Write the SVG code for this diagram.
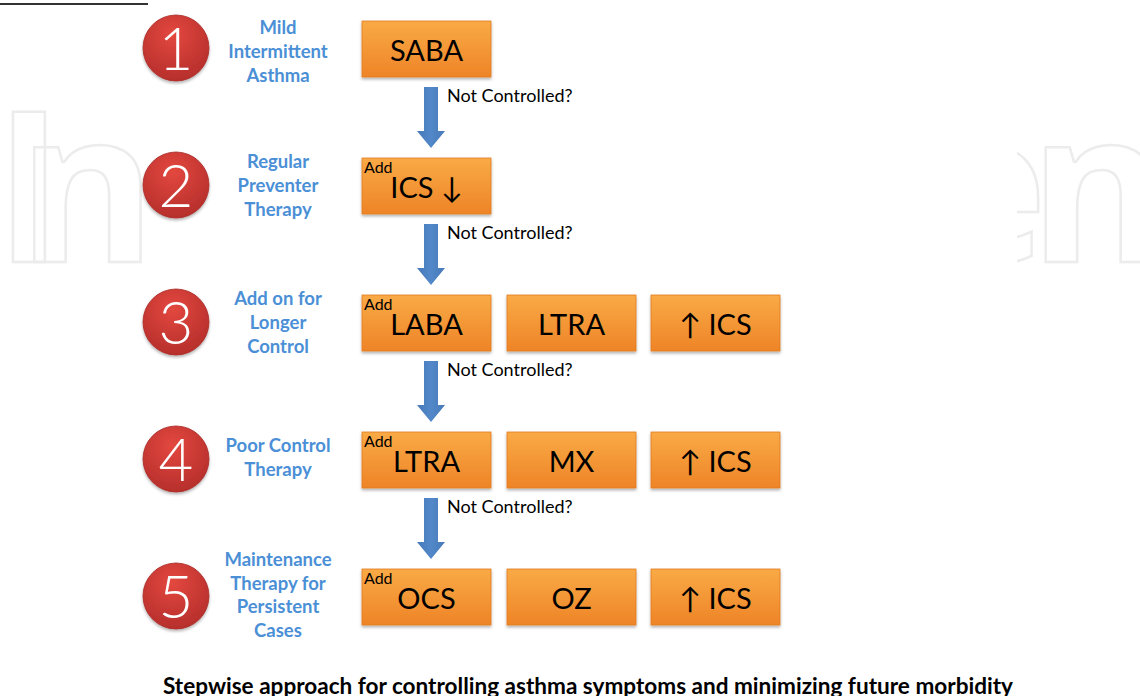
<svg xmlns="http://www.w3.org/2000/svg" width="1140" height="696" viewBox="0 0 1140 696">
<defs>
<linearGradient id="gBox" x1="0" y1="0" x2="0" y2="1">
<stop offset="0" stop-color="#f9aa46"/>
<stop offset="1" stop-color="#ee8427"/>
</linearGradient>
<radialGradient id="gCirc" cx="0.45" cy="0.3" r="0.8">
<stop offset="0" stop-color="#e3483f"/>
<stop offset="1" stop-color="#b02b29"/>
</radialGradient>
<linearGradient id="gArrow" x1="0" y1="0" x2="1" y2="0">
<stop offset="0" stop-color="#4779b8"/>
<stop offset="0.5" stop-color="#5288c9"/>
<stop offset="1" stop-color="#4779b8"/>
</linearGradient>
<filter id="shadow" x="-10%" y="-10%" width="120%" height="130%">
<feDropShadow dx="0" dy="2" stdDeviation="1.5" flood-color="#000" flood-opacity="0.3"/>
</filter>
<clipPath id="wmClip">
<rect x="0" y="0" width="143" height="696"/>
<rect x="1017" y="0" width="123" height="696"/>
</clipPath>
<path id="arrow" d="M-7,0 H7 V44 H14 L0,61 L-14,44 H-7 Z"/>
</defs>
<style>
.box{fill:url(#gBox);stroke:#e07c20;stroke-width:0.8;filter:url(#shadow)}
.circ{fill:url(#gCirc);stroke:#a82826;stroke-width:0.8;filter:url(#shadow)}
.num{font-family:Lato,"Open Sans",sans-serif;font-weight:300;font-size:60px;fill:#fff;text-anchor:middle}
.lbl{font-family:Lato,"Liberation Sans",sans-serif;font-weight:bold;font-size:18.5px;fill:#4b8fd6;text-anchor:middle}
.bt{font-family:Lato,"DejaVu Sans",sans-serif;font-size:29px;fill:#000;text-anchor:middle}
.add{font-family:Lato,"Liberation Sans",sans-serif;font-size:16px;fill:#000}
.nc{font-family:Lato,"Liberation Sans",sans-serif;font-size:18px;fill:#000}
.cap{font-family:Lato,"Liberation Sans",sans-serif;font-weight:bold;font-size:22px;fill:#000;text-anchor:middle}
.arr{fill:url(#gArrow)}
.wm{font-family:"Open Sans",sans-serif;font-weight:bold;font-size:211px;fill:none;stroke:#ececec;stroke-width:2.5;letter-spacing:-9px}
</style>
<rect width="1140" height="696" fill="#fff"/>
<g id="watermark" clip-path="url(#wmClip)">
<text class="wm" x="-6" y="262" dx="0 -37 0 0 0 0 0 0 64 -9">IntechOpen</text>
</g>
<line x1="0" y1="4" x2="148" y2="4" stroke="#333" stroke-width="2"/>

<g id="connectors">
<use href="#arrow" class="arr" x="431" y="87"/>
<use href="#arrow" class="arr" x="431" y="224"/>
<use href="#arrow" class="arr" x="431" y="361"/>
<use href="#arrow" class="arr" x="431" y="498"/>
<text class="nc" x="447" y="102">Not Controlled?</text>
<text class="nc" x="447" y="239">Not Controlled?</text>
<text class="nc" x="447" y="376">Not Controlled?</text>
<text class="nc" x="447" y="513">Not Controlled?</text>
</g>

<g id="step1">
<circle class="circ" cx="176" cy="48" r="33"/>
<text class="num" x="176" y="70">1</text>
<text class="lbl" x="278" y="34">Mild</text>
<text class="lbl" x="278" y="58">Intermittent</text>
<text class="lbl" x="278" y="82">Asthma</text>
</g>
<g id="step2">
<circle class="circ" cx="176" cy="185" r="33"/>
<text class="num" x="176" y="207">2</text>
<text class="lbl" x="278" y="168">Regular</text>
<text class="lbl" x="278" y="192">Preventer</text>
<text class="lbl" x="278" y="216">Therapy</text>
</g>
<g id="step3">
<circle class="circ" cx="176" cy="322" r="33"/>
<text class="num" x="176" y="344">3</text>
<text class="lbl" x="278" y="305">Add on for</text>
<text class="lbl" x="278" y="329">Longer</text>
<text class="lbl" x="278" y="353">Control</text>
</g>
<g id="step4">
<circle class="circ" cx="176" cy="459" r="33"/>
<text class="num" x="176" y="481">4</text>
<text class="lbl" x="278" y="452">Poor Control</text>
<text class="lbl" x="278" y="476">Therapy</text>
</g>
<g id="step5">
<circle class="circ" cx="176" cy="596" r="33"/>
<text class="num" x="176" y="618">5</text>
<text class="lbl" x="278" y="566">Maintenance</text>
<text class="lbl" x="278" y="590">Therapy for</text>
<text class="lbl" x="278" y="613">Persistent</text>
<text class="lbl" x="278" y="637">Cases</text>
</g>

<g id="box-saba">
<rect class="box" x="362" y="21" width="129" height="56"/>
<text class="bt" x="426.5" y="61">SABA</text>
</g>
<g id="box-ics-down">
<rect class="box" x="362" y="158" width="129" height="56"/>
<text class="add" x="364" y="173">Add</text>
<text class="bt" x="426.5" y="198">ICS ↓</text>
</g>
<g id="box-laba">
<rect class="box" x="362" y="295" width="129" height="56"/>
<text class="add" x="364" y="310">Add</text>
<text class="bt" x="426.5" y="335">LABA</text>
</g>
<g id="box-ltra3">
<rect class="box" x="507" y="295" width="129" height="56"/>
<text class="bt" x="571.5" y="335">LTRA</text>
</g>
<g id="box-ics3">
<rect class="box" x="651" y="295" width="129" height="56"/>
<text class="bt" x="715.5" y="335">↑ ICS</text>
</g>
<g id="box-ltra4">
<rect class="box" x="362" y="432" width="129" height="56"/>
<text class="add" x="364" y="447">Add</text>
<text class="bt" x="426.5" y="472">LTRA</text>
</g>
<g id="box-mx">
<rect class="box" x="507" y="432" width="129" height="56"/>
<text class="bt" x="571.5" y="472">MX</text>
</g>
<g id="box-ics4">
<rect class="box" x="651" y="432" width="129" height="56"/>
<text class="bt" x="715.5" y="472">↑ ICS</text>
</g>
<g id="box-ocs">
<rect class="box" x="362" y="569" width="129" height="56"/>
<text class="add" x="364" y="584">Add</text>
<text class="bt" x="426.5" y="609">OCS</text>
</g>
<g id="box-oz">
<rect class="box" x="507" y="569" width="129" height="56"/>
<text class="bt" x="571.5" y="609">OZ</text>
</g>
<g id="box-ics5">
<rect class="box" x="651" y="569" width="129" height="56"/>
<text class="bt" x="715.5" y="609">↑ ICS</text>
</g>

<g id="caption">
<text class="cap" x="588" y="694" textLength="850" lengthAdjust="spacingAndGlyphs">Stepwise approach for controlling asthma symptoms and minimizing future morbidity</text>
</g>
</svg>
